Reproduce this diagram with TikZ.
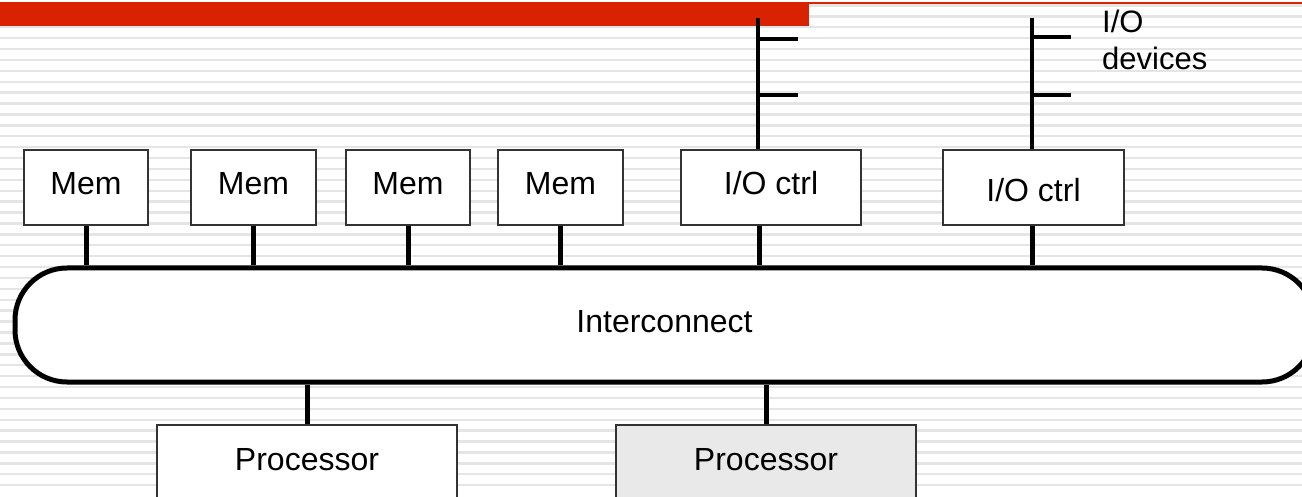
\documentclass[tikz,border=0pt]{standalone}
\usepackage{fontspec}
\setmainfont{Liberation Sans}
\definecolor{redbar}{RGB}{217,35,0}
\definecolor{stripe}{RGB}{229,229,229}
\definecolor{procgray}{RGB}{233,233,233}
\begin{document}
\begin{tikzpicture}[x=1pt,y=-1pt,
  box/.style={draw=black!80, line width=1.3pt, fill=white, inner sep=0pt,
    text height=23pt, text depth=8pt, font=\fontsize{32}{38}\selectfont},
  bus/.style={line width=5pt},
  dev/.style={line width=4pt},
  lbl/.style={font=\fontsize{31}{37}\selectfont, inner sep=0pt, align=left}]
\useasboundingbox (0,0) rectangle (1302,497);
\fill[white] (0,0) rectangle (1302,497);
\foreach \k in {0,...,44}
  \fill[stripe] (0,{5.5+10.9*\k-1.2}) rectangle (1302,{5.5+10.9*\k+1.2});
\fill[redbar] (0,2) rectangle (809,26);
\fill[redbar] (809,2) rectangle (1302,4);

% interconnect
\node[draw, line width=5pt, fill=white, rounded corners=52pt,
  minimum width=1299pt, minimum height=114pt, inner sep=0pt,
  text height=23pt, text depth=8pt, font=\fontsize{32}{38}\selectfont]
  (ic) at (664.5,325) {Interconnect};

% memory and I/O controllers
\node[box, minimum width=124pt, minimum height=75pt] (m1) at (86,187.5) {Mem};
\node[box, minimum width=125pt, minimum height=75pt] (m2) at (253.5,187.5) {Mem};
\node[box, minimum width=124pt, minimum height=75pt] (m3) at (408,187.5) {Mem};
\node[box, minimum width=125pt, minimum height=75pt] (m4) at (560.5,187.5) {Mem};
\node[box, minimum width=180pt, minimum height=75pt] (io1) at (771,187.5) {I/O ctrl};
\node[box, minimum width=181pt, minimum height=75pt, text height=30pt, text depth=1pt] (io2) at (1033.5,187.5) {I/O ctrl};

% processors
\node[box, minimum width=300pt, minimum height=75pt] (p1) at (307,462.5) {Processor};
\node[box, fill=procgray, minimum width=300pt, minimum height=75pt] (p2) at (766,462.5) {Processor};

% connectors to interconnect
\foreach \n in {m1,m2,m3,m4}
  \draw[bus] (\n.south) -- (\n.south |- ic.north);
\coordinate (io1b) at ([xshift=-12pt]io1.south);
\draw[bus] (io1b) -- (io1b |- ic.north);
\coordinate (io2b) at ([xshift=-1.5pt]io2.south);
\draw[bus] (io2b) -- (io2b |- ic.north);
\draw[bus] (p1.north) -- (p1.north |- ic.south);
\draw[bus] (p2.north) -- (p2.north |- ic.south);

% I/O device buses
\coordinate (io1t) at (758,18);
\draw[dev] (io1t) -- (io1t |- io1.north);
\coordinate (d11) at (798,39);
\coordinate (d12) at (798,95);
\draw[dev] (d11 -| io1t) -- (d11);
\draw[dev] (d12 -| io1t) -- (d12);

\coordinate (io2t) at (1032,18);
\draw[dev] (io2t) -- (io2t |- io2.north);
\coordinate (d21) at (1071,37);
\coordinate (d22) at (1071,95);
\draw[dev] (d21 -| io2t) -- (d21);
\draw[dev] (d22 -| io2t) -- (d22);

\node[lbl, anchor=north west] (devlbl) at (1102,10) {I/O\\devices};
\end{tikzpicture}
\end{document}
